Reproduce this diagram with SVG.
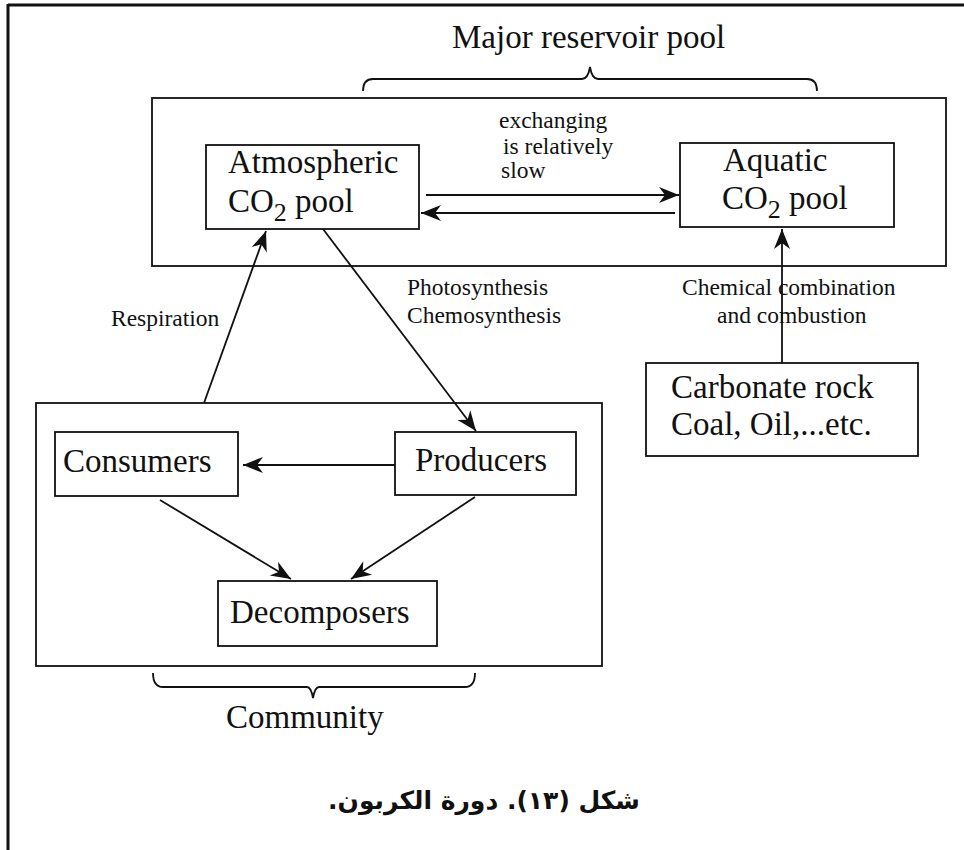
<svg xmlns="http://www.w3.org/2000/svg" width="964" height="850" viewBox="0 0 964 850">
<style>
.box{fill:#fff;stroke:#111;stroke-width:1.8}
.big{font-family:"Liberation Serif","Times New Roman",serif;font-size:33px;fill:#111}
.sub{font-size:26px}
.lbl{font-family:"Liberation Serif","Times New Roman",serif;font-size:23.5px;fill:#111}
.ln{fill:none;stroke:#111;stroke-width:1.8}
.arr{marker-end:url(#ah)}
.cap{font-family:"DejaVu Sans","Noto Sans",sans-serif;font-size:25px;font-weight:bold;fill:#111}
</style>
<defs>
<marker id="ah" markerUnits="userSpaceOnUse" markerWidth="24" markerHeight="18" viewBox="-21 -9 24 18" refX="0" refY="0" orient="auto">
<path d="M0,0 L-20,-8 L-14,0 L-20,8 Z" fill="#111"/>
</marker>
</defs>
<rect width="964" height="850" fill="#fff"/>
<g id="frame">
<line x1="8" y1="5" x2="964" y2="5" stroke="#111" stroke-width="3"/>
<line x1="8" y1="4" x2="8" y2="850" stroke="#111" stroke-width="3"/>
</g>
<g id="reservoir">
<rect class="box" x="152" y="98" width="794" height="168"/>
<path class="ln" d="M363,91 Q363,79 373,79 L582,79 Q588,79 590,67 Q592,79 598,79 L807,79 Q817,79 817,91"/>
<text class="big" x="452" y="48">Major reservoir pool</text>
</g>
<g id="community">
<rect class="box" x="36" y="403" width="566" height="263"/>
<path class="ln" d="M153,673 Q153,687 163,687 L307,687 Q311,687 313,698 Q315,687 319,687 L465,687 Q475,687 475,673"/>
<text class="big" x="226" y="728">Community</text>
</g>
<g id="atmospheric">
<rect class="box" x="206" y="145" width="213" height="84"/>
<text class="big" x="228" y="173">Atmospheric</text>
<text class="big" x="228" y="212">CO<tspan class="sub" dy="9">2</tspan><tspan dy="-9"> pool</tspan></text>
</g>
<g id="aquatic">
<rect class="box" x="680" y="143" width="214" height="84"/>
<text class="big" x="723" y="171">Aquatic</text>
<text class="big" x="722" y="209">CO<tspan class="sub" dy="9">2</tspan><tspan dy="-9"> pool</tspan></text>
</g>
<g id="carbonate">
<rect class="box" x="646" y="363" width="272" height="93"/>
<text class="big" x="671" y="398">Carbonate rock</text>
<text class="big" x="671" y="435">Coal, Oil,...etc.</text>
</g>
<g id="consumers">
<rect class="box" x="55" y="432" width="183" height="64" stroke-width="2.2"/>
<text class="big" x="63" y="472">Consumers</text>
</g>
<g id="producers">
<rect class="box" x="395" y="432" width="181" height="63"/>
<text class="big" x="415" y="471">Producers</text>
</g>
<g id="decomposers">
<rect class="box" x="218" y="581" width="219" height="65"/>
<text class="big" x="230" y="623">Decomposers</text>
</g>
<g id="connectors">
<line class="ln arr" x1="426" y1="195" x2="679" y2="195"/>
<line class="ln arr" x1="675" y1="213" x2="421" y2="213"/>
<line class="ln arr" x1="204" y1="403" x2="266" y2="231"/>
<line class="ln arr" x1="323" y1="229" x2="476" y2="431"/>
<line class="ln arr" x1="782" y1="363" x2="782" y2="229"/>
<line class="ln arr" x1="395" y1="465" x2="243" y2="465"/>
<line class="ln arr" x1="160" y1="500" x2="291" y2="579"/>
<line class="ln arr" x1="475" y1="497" x2="351" y2="579"/>
</g>
<g id="labels">
<text class="lbl" x="499" y="128">exchanging</text>
<text class="lbl" x="503" y="154">is relatively</text>
<text class="lbl" x="501" y="178">slow</text>
<text class="lbl" x="111" y="326">Respiration</text>
<text class="lbl" x="407" y="295">Photosynthesis</text>
<text class="lbl" x="407" y="323">Chemosynthesis</text>
<text class="lbl" x="682" y="295">Chemical combination</text>
<text class="lbl" x="717" y="323">and combustion</text>
</g>
<g id="caption">
<text class="cap" x="484" y="809" text-anchor="middle" direction="rtl">شكل (١٣). دورة الكربون.</text>
</g>
</svg>
